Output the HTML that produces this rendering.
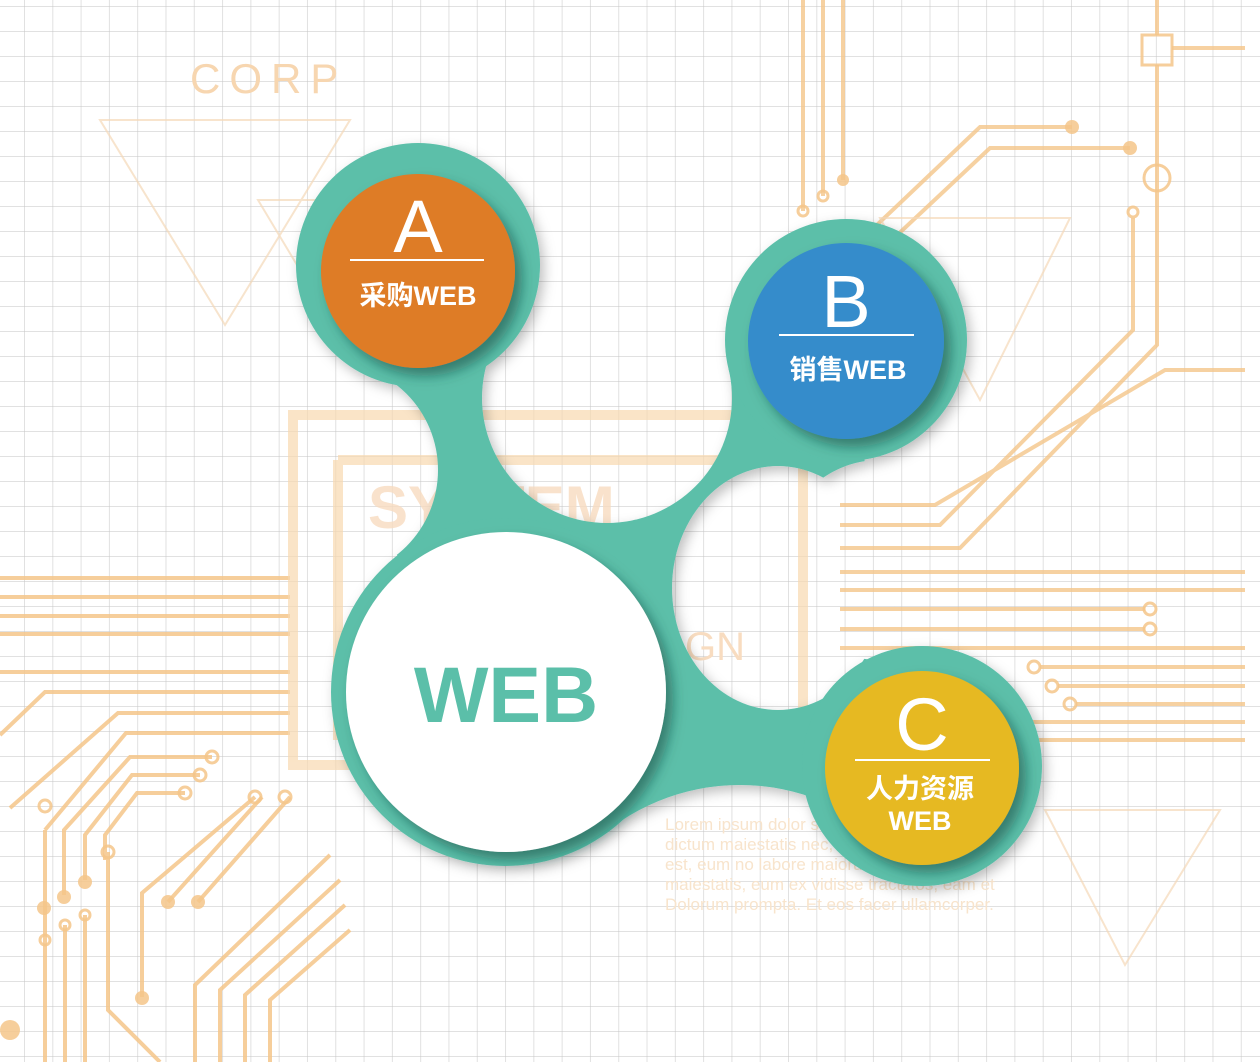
<!DOCTYPE html>
<html><head><meta charset="utf-8"><style>
html,body{margin:0;padding:0}
body{width:1260px;height:1062px;overflow:hidden;position:relative;background:#fff;
background-image:linear-gradient(90deg,rgba(200,200,200,.55) 1px,transparent 1px),linear-gradient(0deg,rgba(200,200,200,.55) 1px,transparent 1px);
background-size:28.3px 25px;background-position:24px 7px;}
svg{position:absolute;left:0;top:0}
</style></head><body>
<svg width="1260" height="1062" viewBox="0 0 1260 1062" xmlns="http://www.w3.org/2000/svg">
<defs>
<filter id="sh" x="-30%" y="-30%" width="160%" height="160%">
<feDropShadow dx="7" dy="8" stdDeviation="6" flood-color="#0b4a3c" flood-opacity="0.55"/>
</filter>
<filter id="sh2" x="-30%" y="-30%" width="160%" height="160%">
<feDropShadow dx="4" dy="5" stdDeviation="6" flood-color="#000" flood-opacity="0.25"/>
</filter>
<mask id="m" maskUnits="userSpaceOnUse" x="0" y="0" width="1260" height="1062">
<polygon points="418,265 607,398 846,340 880,560 922,766 740,1000 505,692 330,470" fill="#fff"/>
<circle cx="607" cy="398" r="125" fill="#000"/>
<ellipse cx="778" cy="588" rx="106" ry="122" fill="#000"/>
<circle cx="880" cy="560" r="100" fill="#000"/>
<circle cx="330" cy="470" r="108" fill="#000"/>
<circle cx="740" cy="1000" r="215" fill="#000"/>
</mask>
</defs>
<!-- background circuit -->
<g fill="none" stroke="#F5C68A" stroke-width="4" opacity="0.85">
<path d="M0 578H290M0 597H290M0 616H290M0 634H290M0 672H290"/>
<path d="M0 735L45 692H290M10 808L118 713H290M45 830L126 733H290M45 830V1062"/>
<path d="M64 895V830L130 757H212M85 880V835L132 775H200M105 860V835L137 793H185"/>
<path d="M45 940V1062M65 925V1062M85 915V1062M108 852V1010L160 1062"/>
<path d="M142 997V893L255 797M168 902L262 797M198 902L290 797"/>
<path d="M195 1062V985L330 855M220 1062V990L340 880M245 1062V995L345 905M270 1062V1000L350 930"/>
</g>
<g fill="#F5C68A" opacity="0.85">
<circle cx="44" cy="908" r="7"/><circle cx="64" cy="897" r="7"/><circle cx="85" cy="882" r="7"/><circle cx="142" cy="998" r="7"/><circle cx="168" cy="902" r="7"/><circle cx="198" cy="902" r="7"/>
<circle cx="10" cy="1030" r="10"/><circle cx="1072" cy="127" r="7"/><circle cx="1130" cy="148" r="7"/><circle cx="843" cy="180" r="6"/>
</g>
<g fill="none" stroke="#F5C68A" stroke-width="3" opacity="0.85">
<circle cx="212" cy="757" r="6"/><circle cx="200" cy="775" r="6"/><circle cx="185" cy="793" r="6"/><circle cx="45" cy="806" r="6"/><circle cx="108" cy="852" r="6"/><circle cx="85" cy="915" r="5"/><circle cx="65" cy="925" r="5"/><circle cx="45" cy="940" r="5"/>
<circle cx="255" cy="797" r="6"/><circle cx="285" cy="797" r="6"/>
<circle cx="1150" cy="609" r="6"/><circle cx="1150" cy="629" r="6"/><circle cx="1034" cy="667" r="6"/><circle cx="1052" cy="686" r="6"/><circle cx="1070" cy="704" r="6"/>
<circle cx="1157" cy="178" r="13"/><circle cx="1133" cy="212" r="5"/><circle cx="803" cy="211" r="5"/><circle cx="823" cy="196" r="5"/>
<rect x="1142" y="35" width="30" height="30"/>
</g>
<g fill="none" stroke="#F5C68A" stroke-width="4" opacity="0.8">
<path d="M1157 0V35M1172 48H1245M1157 65V345L960 548H840"/>
<path d="M1133 218V330L940 525H840"/>
<path d="M1072 127H980L840 260M1130 148H990L860 270"/>
<path d="M843 180V0M803 211V0M823 196V0"/>
<path d="M1245 370H1165L935 505H840"/>
<path d="M840 572H1245M840 590H1245M840 609H1145M840 629H1145M840 648H1245"/>
<path d="M1040 667H1245M1058 686H1245M1076 704H1245M1000 722H1245M980 740H1245"/>
</g>
<g fill="none" stroke="#F8D9B0" stroke-width="10" opacity="0.7">
<rect x="293" y="415" width="510" height="350"/>
<path d="M338 460H790M338 460V740"/>
</g>
<g fill="none" stroke="#F5D9B8" stroke-width="2" opacity="0.7">
<path d="M100 120H350L225 325Z"/><path d="M258 200H340L300 270Z"/><path d="M1070 218H880L980 400Z"/><path d="M1220 810H1045L1125 965Z"/>
</g>
<text x="190" y="93" font-family="Liberation Sans, sans-serif" font-size="42" letter-spacing="9" fill="#F7D6B0">CORP</text>
<text x="368" y="528" font-family="Liberation Sans, sans-serif" font-size="60" font-weight="bold" fill="#F8DCC0" opacity="0.8">SYSTEM</text>
<text x="685" y="660" font-family="Liberation Sans, sans-serif" font-size="40" fill="#F8DCC0">GN</text>
<g font-family="Liberation Sans, sans-serif" font-size="17" fill="#F8E4CC">
<text x="665" y="830">Lorem ipsum dolor sit amet, molestiae</text>
<text x="665" y="850">dictum maiestatis nec, sensibus eam</text>
<text x="665" y="870">est, eum no labore maiorum, te antiopam</text>
<text x="665" y="890">maiestatis, eum ex vidisse tractatos, eam et</text>
<text x="665" y="910">Dolorum prompta. Et eos facer ullamcorper.</text>
</g>
<!-- teal blob -->
<g filter="url(#sh2)" fill="#5BBFA9">
<rect x="0" y="0" width="1260" height="1062" mask="url(#m)"/>
<circle cx="418" cy="265" r="122"/>
<circle cx="846" cy="340" r="121"/>
<circle cx="922" cy="766" r="120"/>
<circle cx="505" cy="692" r="174"/>
</g>
<!-- circles -->
<circle cx="506" cy="692" r="160" fill="#fff" filter="url(#sh)"/>
<circle cx="418" cy="271" r="97" fill="#DE7B26" filter="url(#sh)"/>
<circle cx="846" cy="341" r="98" fill="#368CCB" filter="url(#sh)"/>
<circle cx="922" cy="768" r="97" fill="#E6B920" filter="url(#sh)"/>
<text x="506" y="722" text-anchor="middle" font-family="Liberation Sans, sans-serif" font-size="79" font-weight="bold" fill="#5BBFA9">WEB</text>
<g fill="#fff" text-anchor="middle" font-family="Liberation Sans, 'Noto Sans CJK SC', sans-serif">
<text x="418" y="252" font-size="74">A</text>
<rect x="350" y="259" width="134" height="2"/>
<text x="418" y="305" font-size="27" font-weight="bold">采购WEB</text>
<text x="846" y="327" font-size="74">B</text>
<rect x="779" y="334" width="135" height="2"/>
<text x="848" y="379" font-size="27" font-weight="bold">销售WEB</text>
<text x="922" y="750" font-size="74">C</text>
<rect x="855" y="759" width="135" height="2"/>
<text x="920" y="798" font-size="27" font-weight="bold">人力资源</text>
<text x="920" y="830" font-size="27" font-weight="bold">WEB</text>
</g>
</svg>
</body></html>
